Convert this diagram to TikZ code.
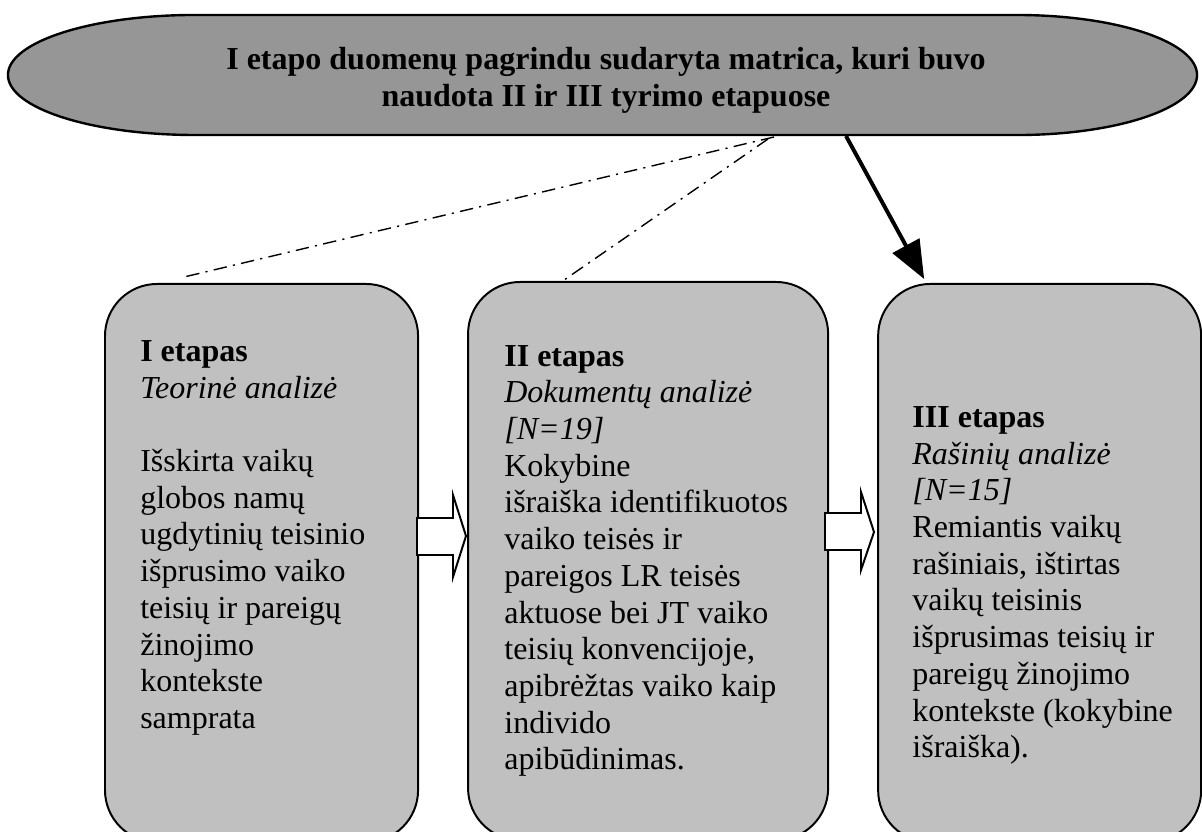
\documentclass[tikz,border=0pt]{standalone}
\usepackage{fontspec}
\setmainfont{Liberation Serif}
\usetikzlibrary{calc, arrows.meta, positioning}
\definecolor{ovalgray}{RGB}{150,150,150}
\definecolor{boxgray}{RGB}{192,192,192}

\begin{document}
\begin{tikzpicture}[x=0.025cm, y=-0.025cm, font=\fontsize{22.76}{26.1}\selectfont, align=left,
  stagebox/.style={draw, line width=1.4pt, rounded corners=1.3cm, fill=boxgray, minimum width=#1, minimum height=13.95cm, inner sep=0pt},
  stagetext/.style={inner sep=0pt},
  link/.style={line width=1pt, dash pattern=on 9.5pt off 4.5pt on 1.5pt off 4.5pt},
  blockarrow/.style={draw, fill=white, line width=1.4pt, line join=miter}]
\useasboundingbox (0,0) rectangle (1202,832);
\clip (0,0) rectangle (1202,832);
% top oval
\filldraw[fill=ovalgray, line width=1.7pt] (195,15) -- (1017,15) arc[start angle=90, end angle=-90, x radius=4.5cm, y radius=1.5cm] -- (195,135) arc[start angle=270, end angle=90, x radius=4.675cm, y radius=1.5cm] -- cycle;
\node[font=\fontsize{22.76}{26.1}\selectfont\bfseries, align=center, inner sep=0pt] (matrica) at (606,81) {\strut I etapo duomenų pagrindu sudaryta matrica, kuri buvo\\ naudota II ir III tyrimo etapuose\strut};
% stages
\node[stagebox=7.825cm, anchor=north west] (box1) at (104,283) {};
\node[stagebox=9cm, right=1.2cm of box1, yshift=0.05cm] (box2) {};
\node[stagebox=8.075cm, right=1.2cm of box2, yshift=-0.05cm] (box3) {};
\node[stagetext, below right=1.31cm and 0.9cm of box1.north west] (text1) {\strut\textbf{I etapas}\\ \textit{Teorinė analizė}\\[26.1pt] Išskirta vaikų\\ globos namų\\ ugdytinių teisinio\\ išprusimo vaiko\\ teisių ir pareigų\\ žinojimo\\ kontekste\\ samprata};
\node[stagetext, below right=1.48cm and 0.925cm of box2.north west] (text2) {\strut\textbf{II etapas}\\ \textit{Dokumentų analizė}\\ \textit{[N=19]}\\ Kokybine\\ išraiška identifikuotos\\ vaiko teisės ir\\ pareigos LR teisės\\ aktuose bei JT vaiko\\ teisių konvencijoje,\\ apibrėžtas vaiko kaip\\ individo\\ apibūdinimas.};
\node[stagetext, below right=2.96cm and 0.875cm of box3.north west] (text3) {\strut\textbf{III etapas}\\ \textit{Rašinių analizė}\\ \textit{[N=15]}\\ Remiantis vaikų\\ rašiniais, ištirtas\\ vaikų teisinis\\ išprusimas teisių ir\\ pareigų žinojimo\\ kontekste (kokybine\\ išraiška).};
% block arrows between stages
\draw[blockarrow] (417,518) -- (453,518) -- (453,495) -- (466,536) -- (453,577) -- (453,555) -- (417,555) -- cycle;
\draw[blockarrow] (825,513) -- (861,513) -- (861,492) -- (874,532) -- (861,570) -- (861,550) -- (825,550) -- cycle;
% links from the matrix
\coordinate (m1) at (774,137);
\coordinate (m2) at (768,139);
\coordinate (m3) at (846,136);
\draw[link] (m1) -- ([xshift=2cm, yshift=0.15cm]box1.north west);
\draw[link] (m2) -- ([xshift=2.425cm, yshift=0.025cm]box2.north west);
\draw[line width=2.8pt, -{Triangle[length=0.95cm, width=0.75cm]}] (m3) -- ([xshift=1.175cm, yshift=0.1cm]box3.north west);
\end{tikzpicture}
\end{document}
